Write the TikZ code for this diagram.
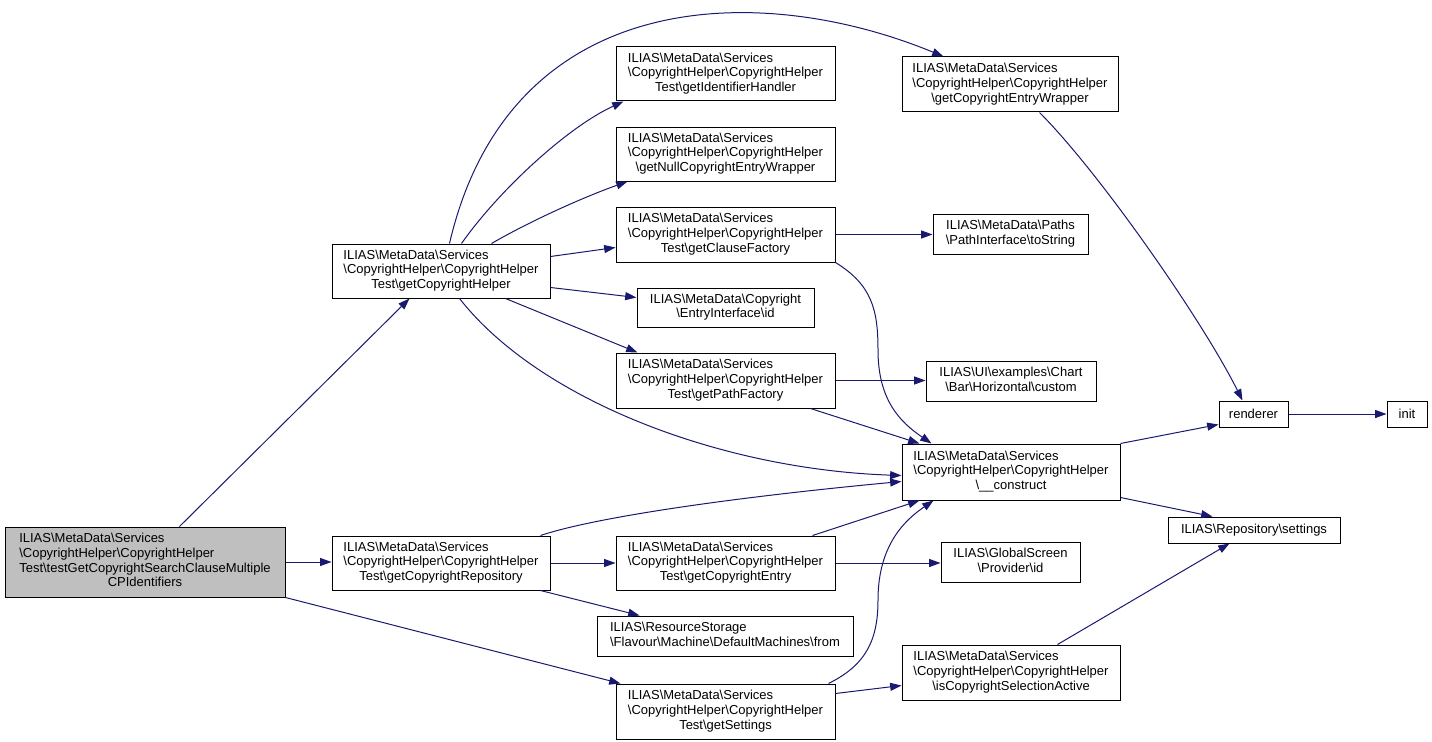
\documentclass[tikz,border=0pt]{standalone}
\usepackage{fontspec}
\setmainfont{Liberation Sans}
\usetikzlibrary{arrows.meta,calc}
\definecolor{edgec}{HTML}{191970}
\definecolor{gfill}{HTML}{BFBFBF}
\newcommand\BS{\textbackslash}
\newcommand\Lthree[3]{\begin{tabular}{@{}l@{}}#1\\#2\\\multicolumn{1}{@{}c@{}}{#3}\end{tabular}}
\newcommand\Lfour[4]{\begin{tabular}{@{}l@{}}#1\\#2\\#3\\\multicolumn{1}{@{}c@{}}{#4}\end{tabular}}
\newcommand\Ltwo[2]{\begin{tabular}{@{}c@{}}#1\\#2\end{tabular}}
\newcommand\mkbox[7][]{\node[boxn,#1,minimum width={(#5-#3)*0.75pt},minimum height={(#6-#4)*0.75pt}] (#2) at ({(#3+#5)/2},{(#4+#6)/2}) {#7};}
\tikzset{
  boxn/.style={draw=black,line width=0.75pt,inner sep=0pt,fill=white,font=\fontsize{9.75}{11}\selectfont},
  edge/.style={draw=edgec,line width=0.75pt,-{Triangle[length=8.5pt,width=6pt]}}
}
\begin{document}
\begin{tikzpicture}[x=0.75pt,y=-0.75pt]
\useasboundingbox (0,0) rectangle (1432,742);
\mkbox[fill=gfill]{main}{5}{527}{285}{597}{\Lfour{ILIAS\BS MetaData\BS Services}{\BS CopyrightHelper\BS CopyrightHelper}{Test\BS testGetCopyrightSearchClauseMultiple}{CPIdentifiers}}
\mkbox{gch}{332}{244}{550}{298}{\Lthree{ILIAS\BS MetaData\BS Services}{\BS CopyrightHelper\BS CopyrightHelper}{Test\BS getCopyrightHelper}}
\mkbox{gih}{616}{47}{835}{101}{\Lthree{ILIAS\BS MetaData\BS Services}{\BS CopyrightHelper\BS CopyrightHelper}{Test\BS getIdentifierHandler}}
\mkbox{gnull}{616}{127}{835}{181}{\Lthree{ILIAS\BS MetaData\BS Services}{\BS CopyrightHelper\BS CopyrightHelper}{\BS getNullCopyrightEntryWrapper}}
\mkbox{gcf}{616}{207}{835}{262}{\Lthree{ILIAS\BS MetaData\BS Services}{\BS CopyrightHelper\BS CopyrightHelper}{Test\BS getClauseFactory}}
\mkbox{eid}{637}{288}{814}{327}{\Ltwo{ILIAS\BS MetaData\BS Copyright}{\BS EntryInterface\BS id}}
\mkbox{gpf}{616}{353}{835}{408}{\Lthree{ILIAS\BS MetaData\BS Services}{\BS CopyrightHelper\BS CopyrightHelper}{Test\BS getPathFactory}}
\mkbox{gcew}{902}{57}{1118}{112}{\Lthree{ILIAS\BS MetaData\BS Services}{\BS CopyrightHelper\BS CopyrightHelper}{\BS getCopyrightEntryWrapper}}
\mkbox{tostr}{933}{214}{1088}{254}{\Ltwo{ILIAS\BS MetaData\BS Paths}{\BS PathInterface\BS toString}}
\mkbox{custom}{926}{361}{1096}{401}{\Ltwo{ILIAS\BS UI\BS examples\BS Chart}{\BS Bar\BS Horizontal\BS custom}}
\mkbox{cons}{902}{444}{1120}{500}{\Lthree{ILIAS\BS MetaData\BS Services}{\BS CopyrightHelper\BS CopyrightHelper}{\BS\_\_construct}}
\mkbox{rend}{1219}{401}{1288}{427}{renderer}
\mkbox{init}{1387}{401}{1427}{427}{init}
\mkbox{sett}{1168}{517}{1340}{543}{ILIAS\BS Repository\BS settings}
\mkbox{gcr}{332}{536}{550}{590}{\Lthree{ILIAS\BS MetaData\BS Services}{\BS CopyrightHelper\BS CopyrightHelper}{Test\BS getCopyrightRepository}}
\mkbox{gce}{616}{536}{835}{590}{\Lthree{ILIAS\BS MetaData\BS Services}{\BS CopyrightHelper\BS CopyrightHelper}{Test\BS getCopyrightEntry}}
\mkbox{gsid}{941}{542}{1080}{582}{\Ltwo{ILIAS\BS GlobalScreen}{\BS Provider\BS id}}
\mkbox{from}{597}{616}{853}{656}{\begin{tabular}{@{}l@{}}ILIAS\BS ResourceStorage\\\BS Flavour\BS Machine\BS DefaultMachines\BS from\end{tabular}}
\mkbox{gs}{616}{684}{835}{739}{\Lthree{ILIAS\BS MetaData\BS Services}{\BS CopyrightHelper\BS CopyrightHelper}{Test\BS getSettings}}
\mkbox{isc}{902}{645}{1120}{700}{\Lthree{ILIAS\BS MetaData\BS Services}{\BS CopyrightHelper\BS CopyrightHelper}{\BS isCopyrightSelectionActive}}
% edges
\draw[edge] ($(main.north west)+(175,0)$) -- ($(gch.south west)+(78,0)$);
\draw[edge] (main.east) -- (main.east -| gcr.west);
\draw[edge] (main.south east) -- ($(gs.north west)+(5,0)$);
\draw[edge] ($(gch.north west)+(118,0)$) .. controls +(60,-258) and +(-184,-76) .. ($(gcew.north west)+(42,0)$);
\draw[edge] ($(gch.north west)+(130,0)$) .. controls +(38,-54) and +(-55,25) .. ($(gih.south west)+(8,0)$);
\draw[edge] ($(gch.north west)+(160,0)$) .. controls +(38,-22) and +(-45,16) .. ($(gnull.south west)+(12,0)$);
\draw[edge] ($(gch.north east)+(0,13)$) -- ($(gcf.north west)+(0,41)$);
\draw[edge] ($(gch.south east)+(0,-11)$) -- ($(eid.north west)+(0,10)$);
\draw[edge] ($(gch.south west)+(174,0)$) -- ($(gpf.north west)+(22,0)$);
\draw[edge] ($(gch.south west)+(128,0)$) .. controls +(80,102) and +(-180,-6) .. ($(cons.north west)+(0,32)$);
\draw[edge] (gcf.east) -- (gcf.east -| tostr.west);
\draw[edge] (gcf.south east) .. controls (872,285) and (878,310) .. (878,350) .. controls (878,400) and (900,422) .. ($(cons.north west)+(30,0)$);
\draw[edge] (gpf.east) -- (gpf.east -| custom.west);
\draw[edge] ($(gpf.south east)+(-25,0)$) -- ($(cons.north west)+(18,0)$);
\draw[edge] ($(gcew.south west)+(138,0)$) .. controls +(60,60) and +(-40,-80) .. ($(rend.north west)+(24,0)$);
\draw[edge] (rend.east) -- (init.west);
\draw[edge] (cons.north east) -- ($(rend.south west)+(0,-3)$);
\draw[edge] ($(cons.south east)+(0,-3)$) -- ($(sett.north west)+(45,0)$);
\draw[edge] ($(gcr.north east)+(-10,0)$) .. controls +(60,-20) and +(-150,14) .. ($(cons.north west)+(0,38)$);
\draw[edge] (gcr.east) -- (gce.west);
\draw[edge] ($(gcr.south east)+(-10,0)$) -- ($(from.north west)+(43,0)$);
\draw[edge] ($(gce.north east)+(-23,0)$) -- ($(cons.south west)+(18,0)$);
\draw[edge] (gce.east) -- (gce.east -| gsid.west);
\draw[edge] ($(gs.north east)+(-7,0)$) .. controls (866,665) and (878,640) .. (878,600) .. controls (878,545) and (905,520) .. ($(cons.south west)+(32,0)$);
\draw[edge] ($(gs.north east)+(0,10)$) -- ($(isc.north west)+(0,41)$);
\draw[edge] ($(isc.north west)+(156,0)$) -- ($(sett.south west)+(62,0)$);
\end{tikzpicture}
\end{document}
